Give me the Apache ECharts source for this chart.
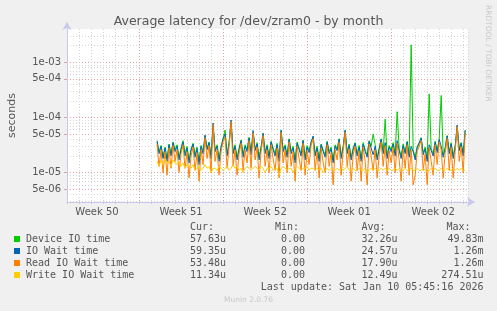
<!DOCTYPE html>
<html><head><meta charset="utf-8">
<script src="https://cdn.jsdelivr.net/npm/echarts@6/dist/echarts.min.js"></script>
<style>html,body{margin:0;padding:0;background:#f0f0f0}#c{width:497px;height:311px}</style>
</head><body><div id="c"></div><script>
// ---- data ----
const chartTitle = 'Average latency for /dev/zram0 - by month';
const weekLabels = ['Week 50', 'Week 51', 'Week 52', 'Week 01', 'Week 02'];
const weekLabelDays = [2.5, 9.5, 16.5, 23.5, 30.5];
const weekStartDays = [6, 13, 20, 27];
const xMinDay = 0, xMaxDay = 33.4;
const yTickLabels = ['1e-03', '5e-04', '1e-04', '5e-05', '1e-05', '5e-06'];
const yTickValues = [1e-3, 5e-4, 1e-4, 5e-5, 1e-5, 5e-6];
const yMin = 2.94e-6, yMax = 4.0e-3;
const startDay = 7.5;     // first sample (days from left edge)
const stepHours = 4;      // sample spacing
const seriesNames = ['Device IO time', 'IO Wait time', 'Read IO Wait time', 'Write IO Wait time'];
const seriesColors = ['#00cc00', '#0066b3', '#ff8000', '#ffcc00'];
const curText = ['57.63u', '59.35u', '53.48u', '11.34u'];
const minText = ['0.00', '0.00', '0.00', '0.00'];
const avgText = ['32.26u', '24.57u', '17.90u', '12.49u'];
const maxText = ['49.83m', '1.26m', '1.26m', '274.51u'];
const lastUpdate = 'Last update: Sat Jan 10 05:45:16 2026';
// values in microseconds
const deviceIO = [36,24,31,19,29,18,33,22,36,26, 32,19,28,38,22,30,17,27,34,21, 29,16,31,24,46,28,36,20,72,26,
  32,18,30,42,59,22,35,85,24,32, 19,28,39,21,32,26,44,23,55,27, 35,19,30,50,24,32,20,37,28,22,
  34,18,57,26,32,21,41,24,30,17, 36,28,22,39,19,31,25,36,44,22, 30,18,33,26,21,37,24,29,17,32,
  27,41,20,30,57,24,33,19,28,35, 22,31,18,35,26,21,38,30,50,32, 19,28,41,24,93,20,31,26,35,22,
  127,27,20,33,24,37,21,2060,26,19, 30,35,43,23,29,18,267,27,22,37, 25,40,250,21,29,47,24,35,20,31,
  70,27,35,22,58];
const ioWait = [38,22,30,18,28,16,32,20,35,24, 30,17,26,36,20,28,15,25,33,19, 27,14,30,22,48,26,35,18,79,24,
  30,16,28,40,50,20,34,90,22,30, 17,26,38,19,30,24,42,21,58,25, 33,17,28,52,22,30,18,36,26,20,
  32,16,59,24,30,19,40,22,28,15, 34,26,20,38,17,29,23,35,46,20, 28,16,32,24,19,36,22,27,15,30,
  25,40,18,28,59,22,31,17,26,34, 20,29,16,33,24,19,37,28,21,30, 17,26,40,22,35,18,29,24,33,20,
  38,25,18,31,22,36,19,30,24,17, 28,34,42,21,27,16,32,25,20,36, 23,40,30,19,27,46,22,33,18,29,
  73,25,34,20,59];
const readWait = [33,13,26,10,24,9,28,12,31,16, 26,10,22,32,12,24,8,20,29,11, 23,7,26,14,43,18,31,10,74,16,
  26,9,24,36,44,12,30,84,13,26, 9,22,34,11,26,15,38,12,53,17, 29,8,24,47,13,26,10,32,18,11,
  28,8,54,15,26,10,36,13,24,7, 30,18,11,34,9,25,14,31,41,11, 24,8,28,15,10,32,13,23,6,26,
  17,36,9,24,54,13,27,7,21,30, 11,25,7,29,16,6,33,20,11,26, 8,21,36,13,31,9,25,15,29,10,
  34,17,7,27,12,32,9,26,6,9, 24,30,38,11,22,6,28,16,9,32, 14,36,26,8,23,42,11,29,8,24,
  68,16,30,10,53];
const writeWait = [16,13,17,14,18,15,16,13,17,15, 14,16,13,15,12,14,13,12,14,11, 12,13,11,12,14,12,13,10,12,12,
  11,13,12,11,12,13,11,12,14,12, 13,11,12,10,12,13,12,11,12,13, 12,11,13,12,10,12,12,13,11,12,
  12,9,12,13,12,11,12,12,10,12, 13,12,11,12,12,13,11,12,12,11, 12,11,12,10,11,12,11,12,11,11,
  12,11,12,11,12,13,11,11,12,11, 11,12,11,11,12,10,11,12,11,12, 11,11,12,11,12,11,12,11,11,12,
  11,12,11,11,12,11,11,12,11,11, 12,11,11,12,11,10,11,12,11,12, 11,11,12,11,11,12,11,11,12,11,
  12,11,12,11,11];
const seriesValues = [deviceIO, ioWait, readWait, writeWait];

// ---- build ----
const toPts = arr => arr.map((v, i) => [startDay + i * stepHours / 24, v * 1e-6]);
const lg = Math.log10;
const minorGrid = [];
for (let e = -6; e <= -3; e++) for (let k = 1; k <= 9; k++) {
  const v = k * Math.pow(10, e);
  if (v > yMin && v < yMax && k !== 1 && k !== 5) minorGrid.push(lg(v));
}
const gridGray = '#d4d4d4', gridRed = '#e0a0a0', axisCol = '#c8c8ee', txt = '#555';
const mono = 'DejaVu Sans Mono';

const graphics = [];
const rowY = [239, 251, 263, 275];
const hdrY = 227.5;
const hdrX = [190, 275, 361.5, 446.5];
const valX = [226, 305, 397.5, 483.5];
['Cur:', 'Min:', 'Avg:', 'Max:'].forEach((h, j) => graphics.push({type: 'text', x: hdrX[j], y: hdrY,
  style: {text: h, font: '10px ' + mono, fill: txt, textAlign: 'left', textVerticalAlign: 'middle'}}));
seriesNames.forEach((n, r) => {
  graphics.push({type: 'rect', shape: {x: 14, y: rowY[r] - 3, width: 6, height: 6}, style: {fill: seriesColors[r]}});
  graphics.push({type: 'text', x: 26, y: rowY[r], style: {text: n, font: '10px ' + mono, fill: txt, textVerticalAlign: 'middle'}});
  [curText, minText, avgText, maxText].forEach((col, j) => graphics.push({type: 'text', x: valX[j], y: rowY[r],
    style: {text: col[r], font: '10px ' + mono, fill: txt, textAlign: 'right', textVerticalAlign: 'middle'}}));
});
graphics.push({type: 'text', x: 483.5, y: 287, style: {text: lastUpdate, font: '10px ' + mono, fill: txt, textAlign: 'right', textVerticalAlign: 'middle'}});
graphics.push({type: 'text', x: 248.5, y: 300, style: {text: 'Munin 2.0.76', font: '7.5px DejaVu Sans', fill: '#c8c8c8', textAlign: 'center', textVerticalAlign: 'middle'}});
graphics.push({type: 'text', x: 488, y: 5, rotation: -Math.PI / 2, style: {text: 'RRDTOOL / TOBI OETIKER', font: '7.5px DejaVu Sans', fill: '#c8c8c8', textAlign: 'left', textVerticalAlign: 'middle'}});

const chart = echarts.init(document.getElementById('c'), null, {renderer: 'canvas', width: 497, height: 311});
chart.setOption({
  animation: false,
  backgroundColor: '#f0f0f0',
  title: {text: chartTitle, left: 'center', top: 10, textStyle: {fontFamily: 'DejaVu Sans', fontSize: 12.5, fontWeight: 'normal', color: '#555'}},
  grid: {left: 67, top: 29, width: 401, height: 173, show: true, backgroundColor: '#fff', borderWidth: 0,
    containLabel: false, outerBoundsMode: 'none'},
  xAxis: [
    {type: 'value', min: xMinDay, max: xMaxDay, interval: 1,
      axisLine: {show: true, lineStyle: {color: axisCol}, symbol: ['none', 'arrow'], symbolSize: [7, 8], symbolOffset: [0, 7]},
      axisTick: {show: true, length: 2, lineStyle: {color: '#ccc'}},
      axisLabel: {customValues: weekLabelDays, color: txt, fontFamily: 'DejaVu Sans', fontSize: 10, margin: 5,
        formatter: v => weekLabels[weekLabelDays.indexOf(v)] || ''},
      splitLine: {show: true, lineStyle: {color: gridGray, type: [1, 2], width: 1}}},
    {type: 'value', min: xMinDay, max: xMaxDay, position: 'bottom',
      axisLine: {show: false}, axisLabel: {show: false},
      axisTick: {show: false, customValues: weekStartDays},
      splitLine: {show: true, lineStyle: {color: gridRed, type: [1, 2], width: 1}}}
  ],
  yAxis: [
    {type: 'log', min: yMin, max: yMax, logBase: 10, show: true,
      axisLine: {show: false}, axisLabel: {show: false}, axisTick: {show: false}, splitLine: {show: false}},
    {type: 'value', min: lg(yMin), max: lg(yMax), position: 'left',
      axisLine: {show: false}, axisLabel: {show: false},
      axisTick: {show: false, customValues: minorGrid},
      splitLine: {show: true, lineStyle: {color: gridGray, type: [1, 2], width: 1}}},
    {type: 'value', min: lg(yMin), max: lg(yMax), position: 'left',
      name: 'seconds', nameLocation: 'middle', nameGap: 49, nameRotate: 90,
      nameTextStyle: {color: txt, fontFamily: 'DejaVu Sans', fontSize: 11},
      axisLine: {show: true, lineStyle: {color: axisCol}, symbol: ['none', 'arrow'], symbolSize: [7, 8], symbolOffset: [0, 7]},
      axisTick: {show: true, length: 3, customValues: yTickValues.map(lg), lineStyle: {color: gridRed}},
      axisLabel: {customValues: yTickValues.map(lg), color: txt, fontFamily: 'DejaVu Sans', fontSize: 10, margin: 6,
        formatter: v => { let best = 0; yTickValues.forEach((t, i) => { if (Math.abs(lg(t) - v) < Math.abs(lg(yTickValues[best]) - v)) best = i; }); return yTickLabels[best]; }},
      splitLine: {show: true, lineStyle: {color: gridRed, type: [1, 2], width: 1}}}
  ],
  series: seriesValues.map((arr, k) => ({
    name: seriesNames[k], type: 'line', xAxisIndex: 0, yAxisIndex: 0, data: toPts(arr),
    showSymbol: false, symbol: 'none', lineStyle: {width: 1, color: seriesColors[k]}, itemStyle: {color: seriesColors[k]},
    z: 3 + k
  })),
  graphic: graphics
});
</script></body></html>
